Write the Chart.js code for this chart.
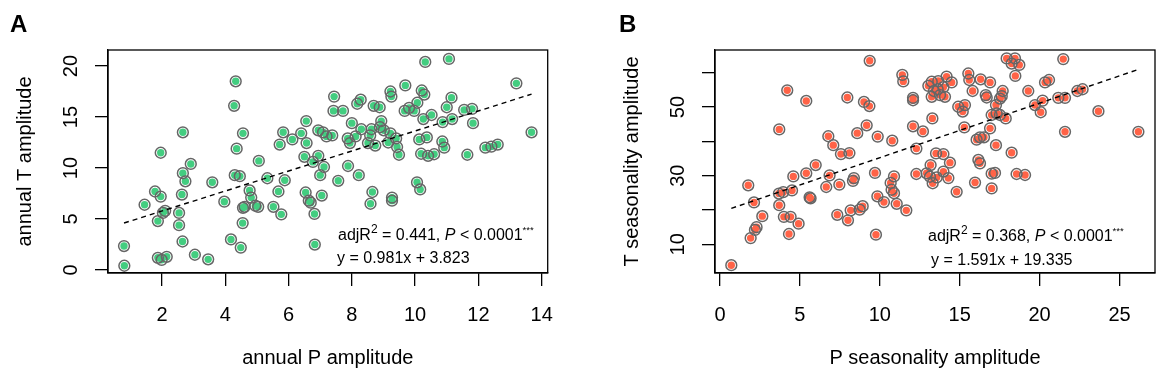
<!DOCTYPE html>
<html><head><meta charset="utf-8">
<script src="https://cdn.jsdelivr.net/npm/chart.js@4/dist/chart.umd.min.js"></script>
<style>
html,body{margin:0;padding:0;background:#fff;}
#wrap{position:relative;width:1164px;height:380px;overflow:hidden;background:#fff;}
canvas{position:absolute;top:0;}
.lbl{position:absolute;font-family:"Liberation Sans",Arial,sans-serif;font-weight:bold;font-size:24px;line-height:24px;color:#000;}
.ann{position:absolute;font-family:"Liberation Sans",Arial,sans-serif;font-size:16px;line-height:16px;white-space:nowrap;color:#000;}
.ann sup{font-size:0.75em;vertical-align:baseline;position:relative;top:-0.55em;}
.ann sup.st{font-size:0.6em;top:-0.75em;}
</style></head>
<body>
<div id="wrap">
<canvas id="cA" width="582" height="380" style="left:0"></canvas>
<canvas id="cB" width="582" height="380" style="left:582px"></canvas>
<div class="lbl" style="left:10px;top:12px">A</div>
<div class="lbl" style="left:619px;top:12px">B</div>
<div class="ann" style="left:338px;top:227px">adjR<sup>2</sup> = 0.441, <i>P</i> &lt; 0.0001<sup class="st">***</sup></div>
<div class="ann" style="left:337px;top:250px">y = 0.981x + 3.823</div>
<div class="ann" style="left:928px;top:228px">adjR<sup>2</sup> = 0.368, <i>P</i> &lt; 0.0001<sup class="st">***</sup></div>
<div class="ann" style="left:931px;top:252px">y = 1.591x + 19.335</div>
</div>
<script>
// ---- Panel A data: annual P amplitude (x) vs annual T amplitude (y)
const aP = [4.33,4.28,2.66,1.96,4.56,4.36,2.91,2.66,2.74,5.06,4.30,4.46,3.59,1.78,1.96,1.45,2.10,2.03,1.87,2.63,2.54,2.54,2.65,0.80,0.81,1.87,1.99,2.15,3.04,3.46,3.97,4.18,4.49,4.55,4.77,4.82,4.56,4.61,4.95,5.04,5.33,5.52,5.77,5.68,5.88,5.72,5.83,6.12,6.40,6.56,6.57,6.50,6.94,6.77,7.00,7.12,6.54,6.64,6.70,6.82,7.05,6.83,6.94,7.09,7.20,
  10.32,11.07,13.20,13.68,7.44,7.42,7.72,8.17,8.28,8.69,8.88,9.22,9.25,9.69,10.21,10.29,10.07,9.67,9.81,9.97,10.26,10.52,11.15,11.00,10.87,11.17,11.55,11.80,11.83,8.00,8.30,7.38,7.87,7.94,8.12,8.58,8.51,8.74,8.62,8.93,8.89,9.01,9.22,9.15,9.40,9.43,9.49,10.13,10.37,10.19,10.41,10.60,10.86,10.92,11.65,12.22,12.41,12.61,7.88,8.22,7.57,8.65,8.59,9.27,9.27,10.06,10.16];
const aT = [18.5,16.1,13.5,11.5,13.4,11.9,10.4,9.5,8.7,10.7,9.3,9.2,8.6,7.7,7.2,6.4,5.8,5.6,4.8,7.4,5.6,4.4,2.8,2.35,0.42,1.2,1.0,1.3,1.5,1.05,6.7,3.0,2.2,4.6,7.8,7.1,6.1,6.2,6.3,6.2,9.0,6.2,5.46,7.7,8.8,12.3,13.5,12.8,13.4,14.6,12.45,11.1,11.2,10.6,9.3,10.1,7.6,6.8,6.6,5.5,7.3,2.5,13.7,13.5,13.1,
  20.4,20.7,18.3,13.5,17.0,15.6,15.6,16.3,16.7,16.1,15.96,17.5,17.0,18.1,17.6,17.2,16.4,15.6,15.9,15.6,14.8,15.2,16.9,15.96,14.5,14.8,15.7,15.8,14.4,14.4,13.8,13.2,12.9,12.45,13.1,13.2,12.45,12.2,13.8,14.6,14.0,13.7,13.4,12.5,12.9,12.06,11.3,12.8,13.0,11.4,11.2,11.35,12.6,12.0,11.3,12.0,12.1,12.3,10.2,9.3,8.75,7.65,6.5,7.1,6.8,8.6,7.9];

// ---- Panel B data: P seasonality amplitude (x) vs T seasonality amplitude (y)
const bP = [9.37,11.41,11.47,12.08,12.08,4.21,5.40,7.97,9.01,9.35,3.71,9.18,8.59,9.87,10.78,12.08,12.70,12.29,6.78,7.09,7.57,8.10,5.99,5.40,4.59,6.86,6.65,7.47,8.32,8.38,9.70,10.89,10.68,10.74,10.89,12.29,9.85,10.26,11.06,11.66,1.77,2.13,3.69,3.96,4.51,3.71,2.65,2.29,2.19,1.92,4.00,4.42,4.92,4.32,5.61,5.67,7.34,8.01,8.18,8.74,8.93,9.76,0.71,
  13.04,13.25,13.66,14.18,14.50,13.39,13.77,14.08,13.25,13.62,13.98,15.54,15.60,15.81,16.31,16.90,16.63,16.69,17.69,17.63,17.52,17.27,17.00,17.31,17.52,17.88,16.90,15.29,14.91,15.19,15.33,13.29,13.52,13.98,14.39,13.18,12.93,13.14,13.56,13.31,14.29,13.98,14.81,15.96,17.00,16.17,16.27,17.00,17.21,18.25,18.56,19.09,17.27,16.06,16.27,16.52,20.34,20.59,19.29,17.94,18.46,18.25,18.73,18.48,21.48,21.17,21.59,19.71,20.19,20.07,22.36,22.69,23.68,21.59,26.18];
const bT = [63.5,59.4,57.5,52.7,52.0,54.9,51.8,52.8,51.5,50.3,43.5,44.7,42.4,41.4,40.2,44.4,42.9,37.9,41.5,38.9,36.3,36.6,33.1,30.7,29.8,30.1,26.7,27.4,28.5,29.3,30.8,29.8,27.9,25.9,24.9,30.5,24.0,22.3,21.8,19.9,27.2,22.2,24.8,25.2,25.7,21.4,18.2,15.0,14.2,11.8,18.0,18.0,16.0,13.0,23.7,23.4,18.6,17.0,19.9,20.1,21.1,12.8,3.9,
  56.2,57.4,57.6,58.9,57.2,54.7,53.5,53.0,53.0,55.2,55.8,59.8,57.9,54.7,58.1,57.2,53.5,52.8,54.7,53.2,52.5,50.6,47.7,48.2,47.7,46.7,43.8,44.1,50.1,48.7,50.6,46.7,36.5,36.3,33.8,33.1,30.7,29.7,29.5,27.8,29.3,31.2,25.3,28.0,26.3,34.6,33.6,30.6,30.8,36.7,30.5,30.2,38.9,40.5,41.2,41.2,57.2,57.9,54.7,64.2,64.2,62.7,62.3,59.1,64.0,52.7,52.7,50.6,51.9,48.5,54.7,55.2,48.8,42.8,42.8];

// ---- Axis ticks and labels
const xTicksA = [2,4,6,8,10,12,14];
const yTicksA = [0,5,10,15,20];
const yLabelsA = [0,5,10,15,20];
const xTicksB = [0,5,10,15,20,25];
const yTicksB = [10,20,30,40,50,60];
const yLabelsB = [10,30,50];

// ---- Regression fits (slope, intercept)
const fitA = [0.981, 3.823];
const fitB = [1.591, 19.335];

const FONT = "'Liberation Sans', Arial, Helvetica, sans-serif";
const RING = '#666666';

function pts(xs, ys){ return xs.map((x,i)=>({x:x, y:ys[i]})); }
function fitLine(xs, fit){
  const lo = Math.min(...xs), hi = Math.max(...xs);
  return [{x:lo, y:fit[0]*lo+fit[1]}, {x:hi, y:fit[0]*hi+fit[1]}];
}

function makeChart(id, o){
  const data = pts(o.xs, o.ys);
  const boxPlugin = {
    id:'box',
    afterDraw(chart){
      const ctx = chart.ctx, a = chart.chartArea;
      ctx.save();
      ctx.strokeStyle = '#000'; ctx.lineWidth = 1.3;
      ctx.strokeRect(a.left, a.top, a.right-a.left, a.bottom-a.top);
      const s = chart.scales.y;
      ctx.fillStyle = '#000';
      ctx.font = '20px ' + FONT;
      ctx.textAlign = 'center'; ctx.textBaseline = 'alphabetic';
      o.yLabels.forEach(v=>{
        const py = s.getPixelForValue(v);
        ctx.save();
        ctx.translate(a.left - 31, py);
        ctx.rotate(-Math.PI/2);
        ctx.fillText(String(v), 0, 0);
        ctx.restore();
      });
      ctx.restore();
    }
  };
  return new Chart(document.getElementById(id), {
    type:'scatter',
    data:{datasets:[
      {data: fitLine(o.xs, o.fit), showLine:true, borderColor:'#000', borderWidth:1.4, borderDash:[5,4], pointRadius:0, fill:false},
      {data: data, pointRadius:5.4, borderWidth:1.5, borderColor:RING, backgroundColor:'rgba(0,0,0,0)'},
      {data: data, pointRadius:3.7, borderWidth:0, backgroundColor:o.color}
    ]},
    options:{
      responsive:false, animation:false, devicePixelRatio:1, events:[],
      layout:{padding:{left:0, top:50, right:o.padRight, bottom:0}},
      plugins:{legend:{display:false}, tooltip:{enabled:false}},
      scales:{
        x:{type:'linear', position:'bottom', min:o.xr[0], max:o.xr[1], bounds:'data',
          afterBuildTicks:s=>{ s.ticks = o.xTicks.map(v=>({value:v})); },
          afterFit:s=>{ s.height = 107; },
          grid:{drawOnChartArea:false, drawTicks:true, tickLength:13, color:'#000', lineWidth:1.3},
          border:{display:true, color:'#000', width:1.3},
          ticks:{color:'#000', font:{family:FONT, size:20}, padding:17, maxRotation:0, autoSkip:false, callback:v=>String(v)},
          title:{display:true, text:o.xTitle, color:'#000', font:{family:FONT, size:20}, padding:{top:0, bottom:10}}
        },
        y:{type:'linear', position:'left', min:o.yr[0], max:o.yr[1], bounds:'data',
          afterBuildTicks:s=>{ s.ticks = o.yTicks.map(v=>({value:v})); },
          afterFit:s=>{ s.width = o.yWidth; },
          grid:{drawOnChartArea:false, drawTicks:true, tickLength:13, color:'#000', lineWidth:1.3},
          border:{display:true, color:'#000', width:1.3},
          ticks:{display:false},
          title:{display:true, text:o.yTitle, color:'#000', font:{family:FONT, size:20}, padding:{top:o.yTitlePad, bottom:0}}
        }
      }
    },
    plugins:[boxPlugin]
  });
}

makeChart('cA', {xs:aP, ys:aT, fit:fitA, color:'#43CD80', xr:[0.294,14.19], yr:[-0.29,21.57],
  xTicks:xTicksA, yTicks:yTicksA, yLabels:yLabelsA, xTitle:'annual P amplitude', yTitle:'annual T amplitude',
  yWidth:108, padRight:34.3, yTitlePad:13});
makeChart('cB', {xs:bP, ys:bT, fit:fitB, color:'#FF6347', xr:[-0.31,27.22], yr:[1.63,66.65],
  xTicks:xTicksB, yTicks:yTicksB, yLabels:yLabelsB, xTitle:'P seasonality amplitude', yTitle:'T seasonality amplitude',
  yWidth:133, padRight:9, yTitlePad:38});
</script>
</body></html>
